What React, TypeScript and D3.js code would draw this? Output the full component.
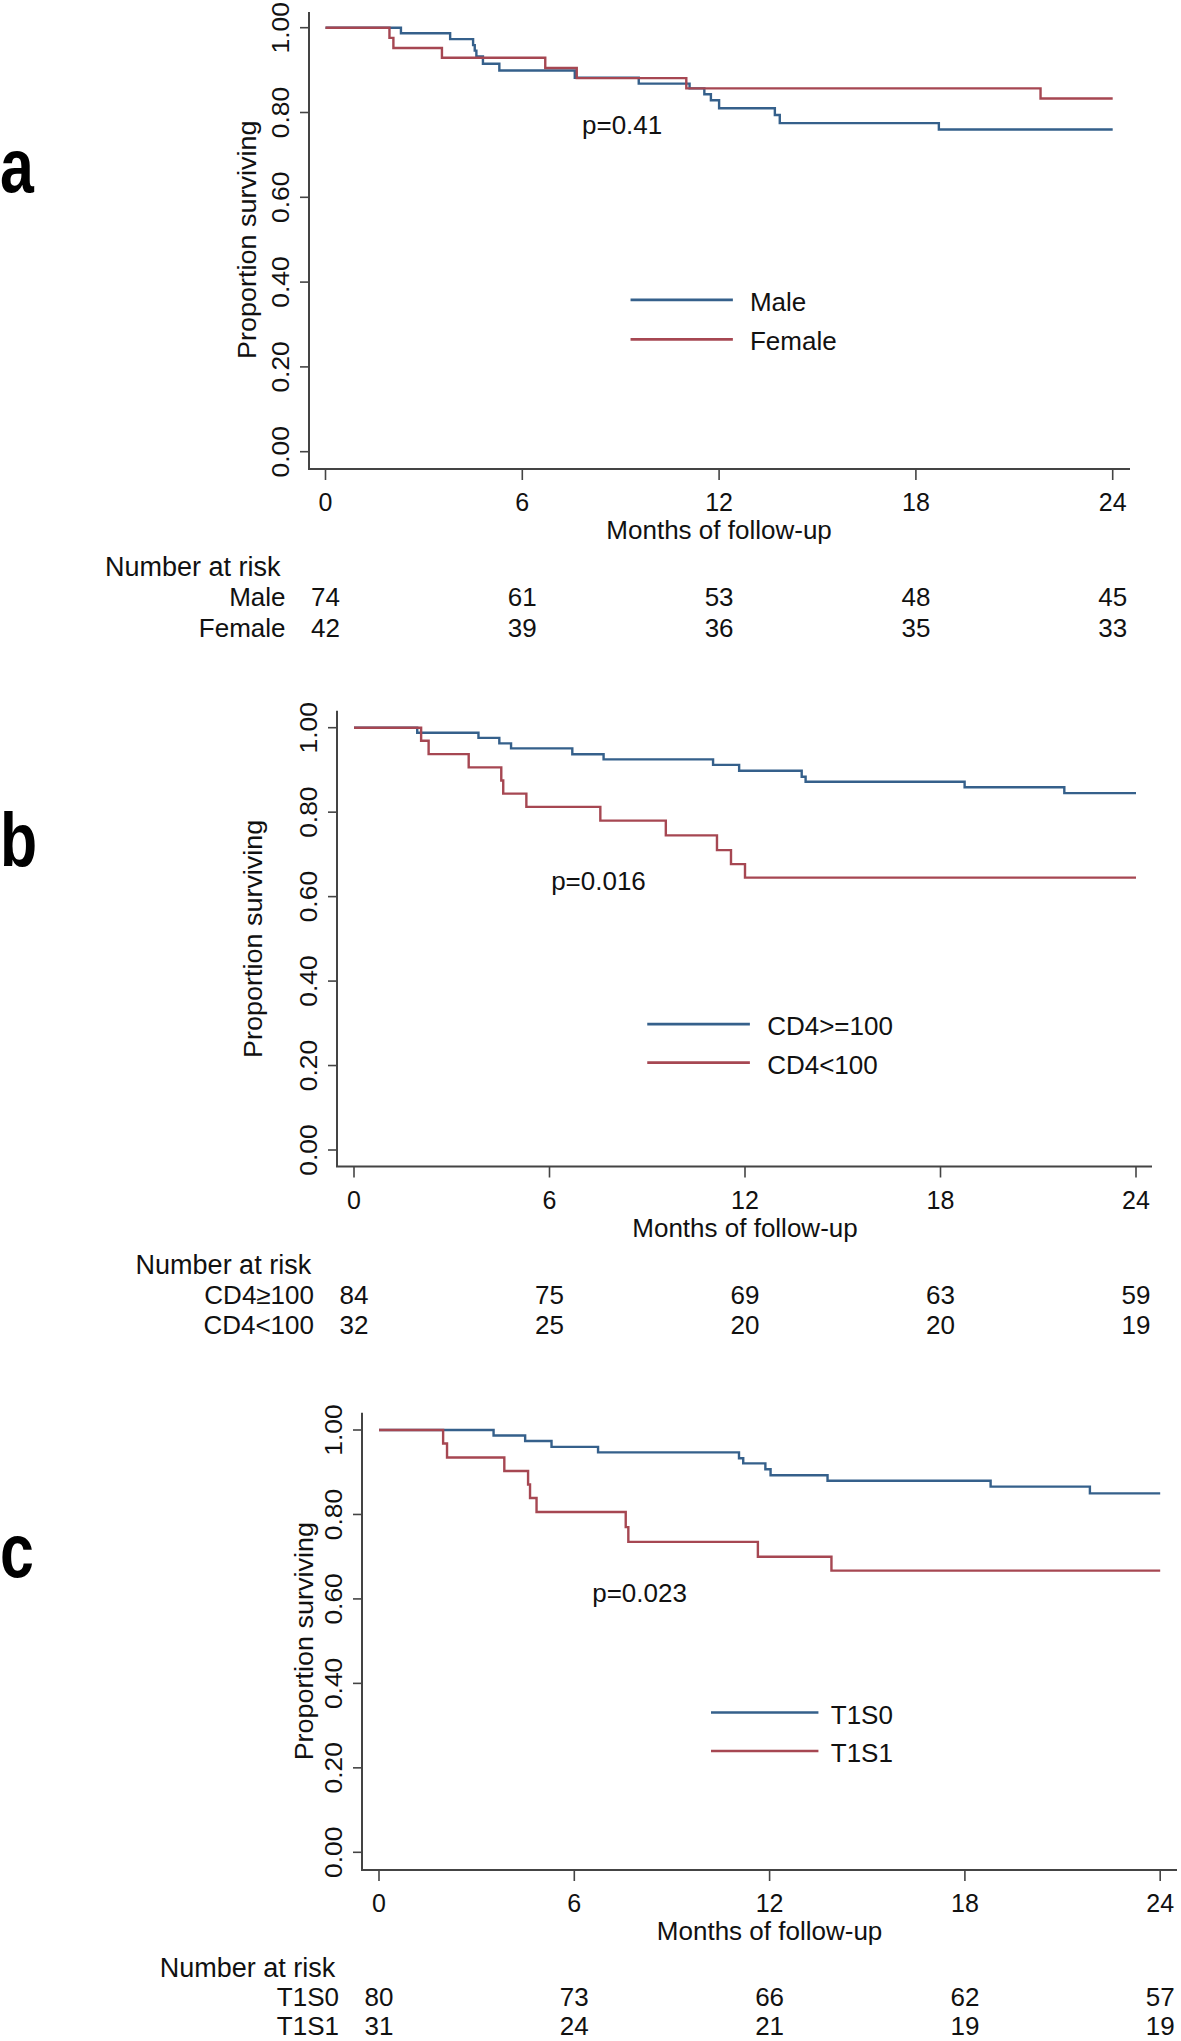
import React from "react";
import * as d3 from "d3";

// ---------- shared ticks ----------
const monthTicks = [0, 6, 12, 18, 24];
const survTicks = [0, 0.2, 0.4, 0.6, 0.8, 1.0];

// ---------- panel a : sex ----------
const maleTimes = [0, 2.3, 3.8, 4.5, 4.55, 4.6, 4.8, 5.3, 7.6, 9.55, 11.1, 11.55, 11.75, 12.0, 13.7, 13.85, 18.7];
const maleSurv = [1, 0.987, 0.973, 0.959, 0.946, 0.932, 0.915, 0.899, 0.882, 0.868, 0.857, 0.843, 0.829, 0.81, 0.794, 0.775, 0.76];
const femaleTimes = [0, 1.95, 2.07, 3.55, 6.7, 7.66, 11.0, 21.8];
const femaleSurv = [1, 0.976, 0.952, 0.929, 0.905, 0.881, 0.857, 0.833];
const maleRisk = [74, 61, 53, 48, 45];
const femaleRisk = [42, 39, 36, 35, 33];

// ---------- panel b : CD4 ----------
const cdHighTimes = [0, 1.94, 3.82, 4.46, 4.82, 6.7, 7.66, 11.02, 11.82, 13.74, 13.86, 18.74, 21.8];
const cdHighSurv = [1, 0.988, 0.976, 0.963, 0.951, 0.937, 0.925, 0.912, 0.898, 0.884, 0.872, 0.859, 0.845];
const cdLowTimes = [0, 2.06, 2.29, 3.52, 4.52, 4.58, 5.29, 7.56, 9.57, 11.14, 11.57, 12.0];
const cdLowSurv = [1, 0.969, 0.9375, 0.906, 0.875, 0.844, 0.8125, 0.78, 0.745, 0.71, 0.677, 0.645];
const cdHighRisk = [84, 75, 69, 63, 59];
const cdLowRisk = [32, 25, 20, 20, 19];

// ---------- panel c : T1S ----------
const t1s0Times = [0, 3.52, 4.49, 5.3, 6.73, 11.06, 11.19, 11.87, 12.03, 13.78, 18.79, 21.84];
const t1s0Surv = [1, 0.987, 0.974, 0.96, 0.947, 0.933, 0.921, 0.907, 0.893, 0.88, 0.866, 0.85];
const t1s1Times = [0, 1.97, 2.09, 3.85, 4.58, 4.64, 4.84, 7.58, 7.66, 11.64, 13.9];
const t1s1Surv = [1, 0.968, 0.935, 0.903, 0.871, 0.839, 0.806, 0.77, 0.735, 0.7, 0.667];
const t1s0Risk = [80, 73, 66, 62, 57];
const t1s1Risk = [31, 24, 21, 19, 19];

const END_TIME = 24;
const BLUE = "#35608b";
const RED = "#a64752";
const AXIS = "#444";
const FONT = "'Liberation Sans', Arial, Helvetica, sans-serif";

type Group = { name: string; riskName: string; times: number[]; surv: number[]; risk: number[]; color: string };
type Layout = {
  letter: string; letterY: number;
  axisX: number; yAxisTop: number; axisY: number;
  x0: number; x24: number; xAxisEnd: number; y1: number; y0: number;
  titleGap: number; riskLeft: number; riskRow1: number; riskStep: number;
  pText: string; pT: number; pV: number;
  legT0: number; legT1: number; legV1: number; legV2: number; legTextT: number;
};

const panels: { layout: Layout; groups: Group[] }[] = [
  {
    layout: {
      letter: "a", letterY: 192, axisX: 309, yAxisTop: 12, axisY: 469,
      x0: 325.5, x24: 1112.7, xAxisEnd: 1130, y1: 27.7, y0: 451.7,
      titleGap: 62, riskLeft: 105, riskRow1: 137, riskStep: 30.5,
      pText: "p=0.41", pT: 7.82, pV: 0.749,
      legT0: 9.3, legT1: 12.42, legV1: 0.358, legV2: 0.265, legTextT: 12.94,
    },
    groups: [
      { name: "Male", riskName: "Male", times: maleTimes, surv: maleSurv, risk: maleRisk, color: BLUE },
      { name: "Female", riskName: "Female", times: femaleTimes, surv: femaleSurv, risk: femaleRisk, color: RED },
    ],
  },
  {
    layout: {
      letter: "b", letterY: 866, axisX: 337, yAxisTop: 710.7, axisY: 1166.5,
      x0: 354, x24: 1136, xAxisEnd: 1152, y1: 727.7, y0: 1150,
      titleGap: 84, riskLeft: 135.6, riskRow1: 137, riskStep: 30.5,
      pText: "p=0.016", pT: 6.05, pV: 0.616,
      legT0: 9.0, legT1: 12.15, legV1: 0.298, legV2: 0.207, legTextT: 12.68,
    },
    groups: [
      { name: "CD4>=100", riskName: "CD4\u2265100", times: cdHighTimes, surv: cdHighSurv, risk: cdHighRisk, color: BLUE },
      { name: "CD4<100", riskName: "CD4<100", times: cdLowTimes, surv: cdLowSurv, risk: cdLowRisk, color: RED },
    ],
  },
  {
    layout: {
      letter: "c", letterY: 1577, axisX: 362, yAxisTop: 1412.7, axisY: 1870,
      x0: 379, x24: 1160.2, xAxisEnd: 1177, y1: 1430, y0: 1852.3,
      titleGap: 58, riskLeft: 159.7, riskRow1: 135.5, riskStep: 29.5,
      pText: "p=0.023", pT: 6.55, pV: 0.593,
      legT0: 10.2, legT1: 13.5, legV1: 0.331, legV2: 0.24, legTextT: 13.88,
    },
    groups: [
      { name: "T1S0", riskName: "T1S0", times: t1s0Times, surv: t1s0Surv, risk: t1s0Risk, color: BLUE },
      { name: "T1S1", riskName: "T1S1", times: t1s1Times, surv: t1s1Surv, risk: t1s1Risk, color: RED },
    ],
  },
];

function Panel({ layout: L, groups }: { layout: Layout; groups: Group[] }) {
  const x = d3.scaleLinear().domain([0, 24]).range([L.x0, L.x24]);
  const y = d3.scaleLinear().domain([0, 1]).range([L.y0, L.y1]);
  const line = d3
    .line<[number, number]>()
    .x((d) => x(d[0]))
    .y((d) => y(d[1]))
    .curve(d3.curveStepAfter);

  const tickLabelX = L.axisX - 29;
  const titleX = L.axisX - L.titleGap;

  return (
    <g>
      <text
        x={0}
        y={L.letterY}
        fontFamily={FONT}
        fontWeight="bold"
        fontSize={76}
        transform={`scale(0.8,1)`}
        fill="#000"
      >
        {L.letter}
      </text>

      {/* axes */}
      <line x1={L.axisX} x2={L.axisX} y1={L.yAxisTop} y2={L.axisY} stroke={AXIS} strokeWidth={2} />
      <line x1={L.axisX - 1} x2={L.xAxisEnd} y1={L.axisY} y2={L.axisY} stroke={AXIS} strokeWidth={2.2} />

      {survTicks.map((v) => (
        <g key={"yt" + v}>
          <line x1={L.axisX - 9} x2={L.axisX} y1={y(v)} y2={y(v)} stroke={AXIS} strokeWidth={1.6} />
          <text
            transform={`translate(${tickLabelX + 9},${y(v)}) rotate(-90) scale(1.1,1)`}
            textAnchor="middle"
            fontFamily={FONT}
            fontSize={24}
            fill="#111"
          >
            {v.toFixed(2)}
          </text>
        </g>
      ))}
      <text
        transform={`translate(${titleX + 9},${y(0.5)}) rotate(-90) scale(1.08,1)`}
        textAnchor="middle"
        fontFamily={FONT}
        fontSize={25}
        fill="#111"
      >
        Proportion surviving
      </text>

      {monthTicks.map((t) => (
        <g key={"xt" + t}>
          <line x1={x(t)} x2={x(t)} y1={L.axisY} y2={L.axisY + 11} stroke={AXIS} strokeWidth={1.6} />
          <text x={x(t)} y={L.axisY + 42} textAnchor="middle" fontFamily={FONT} fontSize={25} fill="#111">
            {t}
          </text>
        </g>
      ))}
      <text x={x(12)} y={L.axisY + 70} textAnchor="middle" fontFamily={FONT} fontSize={26} fill="#111">
        Months of follow-up
      </text>

      {/* curves */}
      {groups.map((g) => {
        const pts: [number, number][] = g.times.map((t, i) => [t, g.surv[i]] as [number, number]);
        pts.push([END_TIME, g.surv[g.surv.length - 1]]);
        return <path key={"c" + g.name} d={line(pts) || ""} fill="none" stroke={g.color} strokeWidth={2.4} />;
      })}

      {/* p value */}
      <text x={x(L.pT)} y={y(L.pV)} fontFamily={FONT} fontSize={26} fill="#111">
        {L.pText}
      </text>

      {/* legend */}
      {groups.map((g, i) => {
        const v = i === 0 ? L.legV1 : L.legV2;
        return (
          <g key={"l" + g.name}>
            <line x1={x(L.legT0)} x2={x(L.legT1)} y1={y(v)} y2={y(v)} stroke={g.color} strokeWidth={2.6} />
            <text x={x(L.legTextT)} y={y(v) + 11} fontFamily={FONT} fontSize={26} fill="#111">
              {g.name}
            </text>
          </g>
        );
      })}

      {/* number at risk */}
      <text x={L.riskLeft} y={L.axisY + 107} fontFamily={FONT} fontSize={27} fill="#111">
        Number at risk
      </text>
      {groups.map((g, i) => (
        <g key={"r" + g.name}>
          <text
            x={x(0) - 40}
            y={L.axisY + L.riskRow1 + i * L.riskStep}
            textAnchor="end"
            fontFamily={FONT}
            fontSize={26}
            fill="#111"
          >
            {g.riskName}
          </text>
          {g.risk.map((n, j) => (
            <text
              key={j}
              x={x(monthTicks[j])}
              y={L.axisY + L.riskRow1 + i * L.riskStep}
              textAnchor="middle"
              fontFamily={FONT}
              fontSize={26}
              fill="#111"
            >
              {n}
            </text>
          ))}
        </g>
      ))}
    </g>
  );
}

export default function App() {
  return (
    <svg
      width={1181}
      height={2041}
      viewBox="0 0 1181 2041"
      style={{ position: "absolute", left: 0, top: 0, background: "#fff" }}
    >
      <rect x={0} y={0} width={1181} height={2041} fill="#fff" />
      {panels.map((p, i) => (
        <Panel key={i} layout={p.layout} groups={p.groups} />
      ))}
    </svg>
  );
}
